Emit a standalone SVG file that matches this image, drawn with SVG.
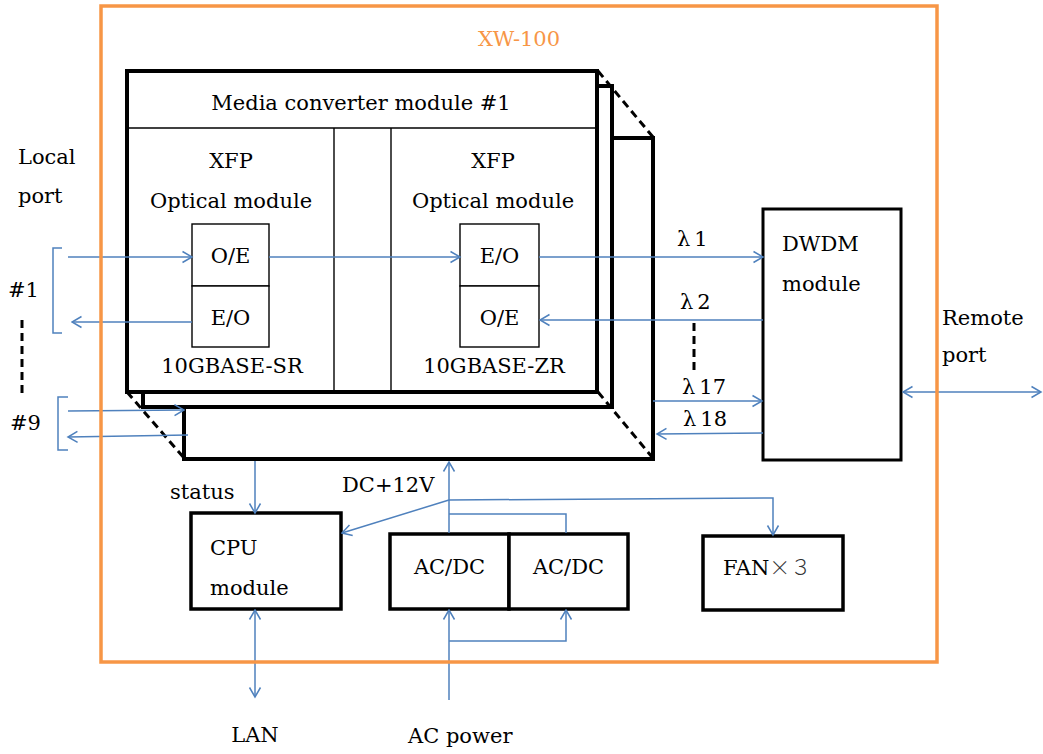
<svg xmlns="http://www.w3.org/2000/svg" width="1043" height="754" viewBox="0 0 1043 754">
<style>
text{font-family:"DejaVu Serif","Liberation Serif",serif;font-size:21px;fill:#000}
.m{text-anchor:middle}
.big{fill:#fff;stroke:#000;stroke-width:4}
.thin{fill:#fff;stroke:#000;stroke-width:1.4}
.box{fill:#fff;stroke:#000;stroke-width:3.5}
.dash{fill:none;stroke:#000;stroke-width:3;stroke-dasharray:8 5}
.c{fill:none;stroke:#4f81bd;stroke-width:1.5}
</style>
<defs>
<marker id="a" markerWidth="12" markerHeight="14" refX="10.5" refY="7" orient="auto-start-reverse" markerUnits="userSpaceOnUse">
<path d="M1,1.5 L10.5,7 L1,12.5" fill="none" stroke="#4f81bd" stroke-width="1.5"/>
</marker>
</defs>
<rect width="1043" height="754" fill="#fff"/>

<g id="module3"><rect class="big" x="184" y="138" width="469" height="321"/></g>
<g id="module2"><rect class="big" x="143" y="86" width="469" height="321"/></g>
<g id="module1">
<rect class="big" x="127" y="71" width="470" height="321"/>
<line x1="127" y1="128" x2="597" y2="128" stroke="#000" stroke-width="1.4"/>
<line x1="334" y1="128" x2="334" y2="392" stroke="#000" stroke-width="1.4"/>
<line x1="391" y1="128" x2="391" y2="392" stroke="#000" stroke-width="1.4"/>
<text class="m" x="361" y="110">Media converter module #1</text>
</g>
<g id="dashes">
<line class="dash" x1="598" y1="71" x2="653" y2="137"/>
<line class="dash" x1="127" y1="392" x2="184" y2="458"/>
<line class="dash" x1="598" y1="392" x2="652" y2="457"/>
<line class="dash" x1="22" y1="320" x2="22" y2="398"/>
<line class="dash" x1="694" y1="323" x2="694" y2="372"/>
</g>
<g id="xfp-sr">
<text class="m" x="231" y="168">XFP</text>
<text class="m" x="231" y="208">Optical module</text>
<text class="m" x="232" y="373">10GBASE-SR</text>
</g>
<g id="sr-oe"><rect class="thin" x="192" y="224" width="77" height="62"/><text class="m" x="230.5" y="263">O/E</text></g>
<g id="sr-eo"><rect class="thin" x="192" y="286" width="77" height="61"/><text class="m" x="230.5" y="325">E/O</text></g>
<g id="xfp-zr">
<text class="m" x="493" y="168">XFP</text>
<text class="m" x="493" y="208">Optical module</text>
<text class="m" x="494" y="373">10GBASE-ZR</text>
</g>
<g id="zr-eo"><rect class="thin" x="460" y="224" width="79" height="62"/><text class="m" x="499.5" y="263">E/O</text></g>
<g id="zr-oe"><rect class="thin" x="460" y="286" width="79" height="61"/><text class="m" x="499.5" y="325">O/E</text></g>

<g id="dwdm"><rect x="763" y="209" width="138" height="251" fill="#fff" stroke="#000" stroke-width="3"/>
<text x="782" y="251">DWDM</text><text x="782" y="291">module</text></g>
<g id="cpu"><rect class="box" x="191" y="513" width="150" height="96"/>
<text x="210" y="555">CPU</text><text x="210" y="595">module</text></g>
<g id="acdc1"><rect class="box" x="390" y="534" width="119" height="75"/><text class="m" x="449.5" y="574">AC/DC</text></g>
<g id="acdc2"><rect class="box" x="509" y="534" width="119" height="75"/><text class="m" x="568.5" y="574">AC/DC</text></g>
<g id="fan"><rect class="box" x="703" y="536" width="140" height="74"/>
<text x="723" y="575">FAN<tspan style="font-family:'Noto Sans CJK JP',sans-serif;font-weight:300;fill:#333">×３</tspan></text></g>

<g id="labels">
<text x="18" y="164">Local</text>
<text x="18" y="203">port</text>
<text x="8" y="297">#1</text>
<text x="10" y="430">#9</text>
<text x="677" y="246">λ<tspan dx="4">1</tspan></text>
<text x="680" y="309">λ<tspan dx="4">2</tspan></text>
<text x="682" y="394">λ<tspan dx="4">17</tspan></text>
<text x="683" y="426">λ<tspan dx="4">18</tspan></text>
<text x="942" y="325">Remote</text>
<text x="942" y="362">port</text>
<text x="170" y="499">status</text>
<text x="342" y="492">DC+12V</text>
<text class="m" x="255" y="742">LAN</text>
<text x="408" y="743">AC power</text>
</g>

<g id="connectors">
<path class="c" d="M62,248 H53 V333 H62"/>
<path class="c" d="M68,397 H58 V450 H68"/>
<line class="c" x1="68" y1="257" x2="192" y2="257" marker-end="url(#a)"/>
<line class="c" x1="192" y1="322" x2="72" y2="322" marker-end="url(#a)"/>
<line class="c" x1="68" y1="411" x2="184" y2="410" marker-end="url(#a)"/>
<line class="c" x1="188" y1="435" x2="68" y2="437" marker-end="url(#a)"/>
<line class="c" x1="269" y1="257" x2="460" y2="257" marker-end="url(#a)"/>
<line class="c" x1="539" y1="257" x2="763" y2="257" marker-end="url(#a)"/>
<line class="c" x1="763" y1="320" x2="540" y2="320" marker-end="url(#a)"/>
<line class="c" x1="653" y1="401" x2="762" y2="401" marker-end="url(#a)"/>
<line class="c" x1="763" y1="433" x2="657" y2="434" marker-end="url(#a)"/>
<line class="c" x1="903" y1="392" x2="1041" y2="392" marker-start="url(#a)" marker-end="url(#a)"/>
<line class="c" x1="255" y1="461" x2="255" y2="513" marker-end="url(#a)"/>
<line class="c" x1="255" y1="610" x2="255" y2="697" marker-start="url(#a)" marker-end="url(#a)"/>
<line class="c" x1="449" y1="533" x2="449" y2="462" marker-end="url(#a)"/>
<path class="c" d="M449,500 L773,498 V535" marker-end="url(#a)"/>
<line class="c" x1="449" y1="500" x2="342" y2="533" marker-end="url(#a)"/>
<path class="c" d="M449,514 H566 V533"/>
<line class="c" x1="449" y1="700" x2="449" y2="610" marker-end="url(#a)"/>
<path class="c" d="M449,641 H566 V610" marker-end="url(#a)"/>
</g>

<g id="xw100">
<rect x="101" y="6" width="836" height="656" fill="none" stroke="#f79646" stroke-width="3.5"/>
<text class="m" x="519" y="46" style="fill:#f79646">XW-100</text>
</g>
</svg>
